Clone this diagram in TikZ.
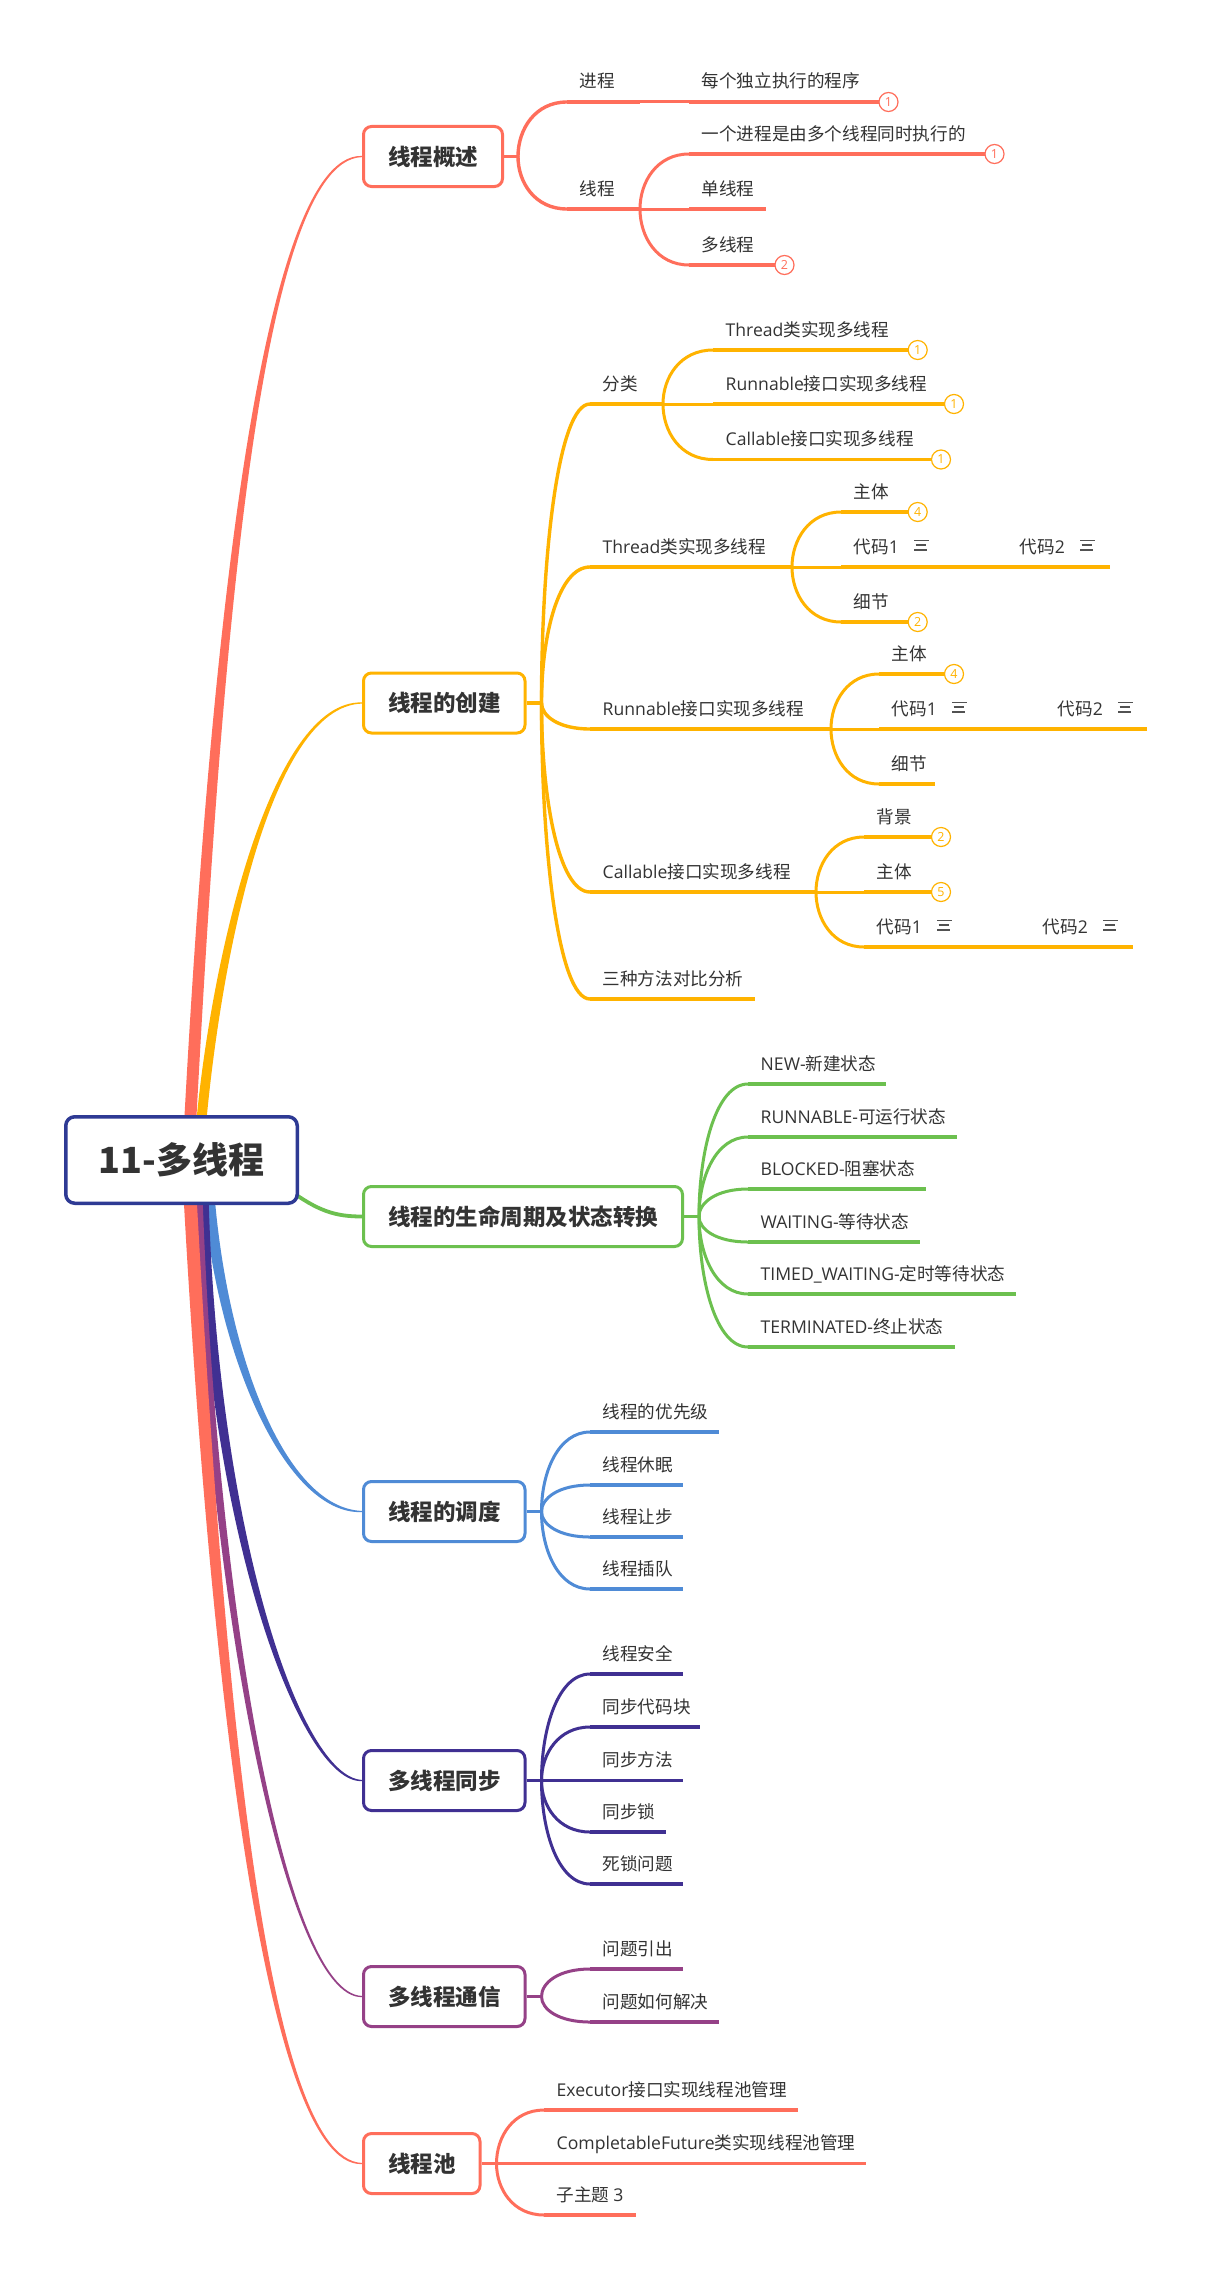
\documentclass[tikz,border=0pt]{standalone}
\usepackage{fontspec}
\setmainfont{Noto Sans CJK SC}
\newfontfamily\lat{Open Sans}
\usetikzlibrary{calc}
\pgfdeclarelayer{bg}
\pgfsetlayers{bg,main}
\definecolor{cred}{HTML}{FF6E5B}
\definecolor{corg}{HTML}{FFB300}
\definecolor{cgrn}{HTML}{6CC04F}
\definecolor{cblu}{HTML}{4F8BD6}
\definecolor{cdpu}{HTML}{403092}
\definecolor{cmag}{HTML}{954187}
\definecolor{croot}{HTML}{2E3A94}
\definecolor{ctxt}{HTML}{333333}
\tikzset{
  leaftext/.style={anchor=base west, inner sep=0pt, text=ctxt, font=\fontsize{17.6}{20}\selectfont},
  mainbox/.style={draw=#1, line width=3pt, rounded corners=8pt, fill=white, minimum height=60pt,
    inner xsep=24.5pt, inner ysep=0pt, anchor=west, text=ctxt, font=\bfseries\fontsize{22.5}{26}\selectfont},
  rootbox/.style={draw=croot, line width=3.5pt, rounded corners=9pt, fill=white, minimum width=231.5pt,
    minimum height=86.5pt, inner sep=0pt, text=ctxt, font=\bfseries\fontsize{36}{40}\selectfont},
  marker/.style={circle, draw=#1, fill=white, line width=1.2pt, minimum size=19pt, inner sep=0pt,
    text=#1, font=\lat\fontsize{12.5}{12.5}\selectfont},
  uline/.style={line width=3.2pt},
  stubline/.style={line width=3.6pt},
  curveA/.style={line width=3.4pt, line cap=round},
  curveB/.style={line width=3pt, line cap=round},
}
% leaf: name, colour, line start x, line y, line end x, text
\newcommand\leaf[6]{%
  \coordinate (#1s) at (#3,#4);
  \coordinate (#1e) at (#5,#4);
  \node[leaftext] (#1) at ({#3+12.5},{#4-14}) {#6};
  \draw[#2, uline] (#1s) -- (#1e);
}
% branch curve between named points
\newcommand\br[3]{%
  \draw[#1] let \p1=(#2), \p2=(#3) in (\p1) .. controls (\x1,{0.5*\y1+0.5*\y2}) and ({\x1+0.35*(\x2-\x1)},\y2) .. (\p2);
}
% tapered trunk: colour, start, c1, c2, end, half width, sign
\newcommand\taper[7]{%
  \fill[#1] ($(#2)+(-#6,0)$) .. controls ($(#3)+({-1.0*#6},0)$) and ($(#4)+(0,{-0.6*#6*(#7)})$) .. ($(#5)+(0,{-0.6*(#7)})$)
    -- ($(#5)+(0,{0.6*(#7)})$) .. controls ($(#4)+(0,{0.6*#6*(#7)})$) and ($(#3)+({1.0*#6},0)$) .. ($(#2)+(#6,0)$) -- cycle;
}
\newcommand\noteicon[1]{%
  \draw[ctxt!85, line width=1.4pt] ($(#1.base east)+(15,-12.3)$) -- ++(15,0)
    ($(#1.base east)+(16.5,-8)$) -- ++(10,0)
    ($(#1.base east)+(15,-3)$) -- ++(13,0);
}
\begin{document}
\begin{tikzpicture}[x=1pt,y=-1pt]
\useasboundingbox (0,0) rectangle (1210,2280);

% ---------- root ----------
\node[rootbox] (root) at (181.5,1160) {11-多线程};

% ---------- 1 线程概述 ----------
\node[mainbox=cred] (b1) at (362,156.5) {线程概述};
\coordinate (b1j) at ($(b1.east)+(14,0)$);
\draw[cred, stubline] (b1.east) -- (b1j);
\leaf{n11}{cred}{567}{102}{640}{进程}
\coordinate (n11j) at (640,102);
\leaf{n111}{cred}{689}{102}{879}{每个独立执行的程序}
\node[marker=cred] (m111) at (888.5,102) {1};
\leaf{n12}{cred}{567}{209}{640}{线程}
\coordinate (n12j) at (640,209);
\leaf{n121}{cred}{689}{154}{985}{一个进程是由多个线程同时执行的}
\node[marker=cred] (m121) at (994.5,154) {1};
\leaf{n122}{cred}{689}{209}{766}{单线程}
\leaf{n123}{cred}{689}{265}{775}{多线程}
\node[marker=cred] (m123) at (784.5,265) {2};
\br{cred,curveA}{b1j}{n11s}
\br{cred,curveA}{b1j}{n12s}
\br{cred,curveB}{n11j}{n111s}
\br{cred,curveB}{n12j}{n121s}
\br{cred,curveB}{n12j}{n122s}
\br{cred,curveB}{n12j}{n123s}

% ---------- 2 线程的创建 ----------
\node[mainbox=corg] (b2) at (362,703) {线程的创建};
\coordinate (b2j) at ($(b2.east)+(15,0)$);
\draw[corg, stubline] (b2.east) -- (b2j);
\leaf{n21}{corg}{590}{404}{663}{分类}
\coordinate (n21j) at (663,404);
\leaf{n211}{corg}{713}{350}{908}{{\lat Thread}类实现多线程}
\node[marker=corg] (m211) at (917.7,350) {1};
\leaf{n212}{corg}{713}{404}{944.5}{{\lat Runnable}接口实现多线程}
\node[marker=corg] (m212) at (954,404) {1};
\leaf{n213}{corg}{713}{459.5}{931.5}{{\lat Callable}接口实现多线程}
\node[marker=corg] (m213) at (941,459.5) {1};

\leaf{n22}{corg}{590}{567}{792}{{\lat Thread}类实现多线程}
\coordinate (n22j) at (792,567);
\leaf{n221}{corg}{841}{512}{908}{主体}
\node[marker=corg] (m221) at (917.7,512) {4};
\leaf{n222}{corg}{841}{567}{1007}{代码{\lat 1}}
\noteicon{n222}
\leaf{n2221}{corg}{1007}{567}{1110}{代码{\lat 2}}
\noteicon{n2221}
\leaf{n223}{corg}{841}{622}{908}{细节}
\node[marker=corg] (m223) at (917.7,622) {2};

\leaf{n23}{corg}{590}{729}{831}{{\lat Runnable}接口实现多线程}
\coordinate (n23j) at (831,729);
\leaf{n231}{corg}{879}{674}{944.5}{主体}
\node[marker=corg] (m231) at (954,674) {4};
\leaf{n232}{corg}{879}{729}{1045}{代码{\lat 1}}
\noteicon{n232}
\leaf{n2321}{corg}{1045}{729}{1147}{代码{\lat 2}}
\noteicon{n2321}
\leaf{n233}{corg}{879}{784}{935}{细节}

\leaf{n24}{corg}{590}{892}{816}{{\lat Callable}接口实现多线程}
\coordinate (n24j) at (816,892);
\leaf{n241}{corg}{864}{837}{931.5}{背景}
\node[marker=corg] (m241) at (941,837) {2};
\leaf{n242}{corg}{864}{892}{931.5}{主体}
\node[marker=corg] (m242) at (941,892) {5};
\leaf{n243}{corg}{864}{947}{1030}{代码{\lat 1}}
\noteicon{n243}
\leaf{n2431}{corg}{1030}{947}{1133}{代码{\lat 2}}
\noteicon{n2431}

\leaf{n25}{corg}{590}{999}{755}{三种方法对比分析}

\br{corg,curveA}{b2j}{n21s}
\br{corg,curveA}{b2j}{n22s}
\br{corg,curveA}{b2j}{n23s}
\br{corg,curveA}{b2j}{n24s}
\br{corg,curveA}{b2j}{n25s}
\br{corg,curveB}{n21j}{n211s}
\br{corg,curveB}{n21j}{n212s}
\br{corg,curveB}{n21j}{n213s}
\br{corg,curveB}{n22j}{n221s}
\br{corg,curveB}{n22j}{n222s}
\br{corg,curveB}{n22j}{n223s}
\br{corg,curveB}{n23j}{n231s}
\br{corg,curveB}{n23j}{n232s}
\br{corg,curveB}{n23j}{n233s}
\br{corg,curveB}{n24j}{n241s}
\br{corg,curveB}{n24j}{n242s}
\br{corg,curveB}{n24j}{n243s}

% ---------- 3 生命周期 ----------
\node[mainbox=cgrn] (b3) at (362,1216.5) {线程的生命周期及状态转换};
\coordinate (b3j) at ($(b3.east)+(15,0)$);
\draw[cgrn, stubline] (b3.east) -- (b3j);
\leaf{n31}{cgrn}{748}{1084}{886}{{\lat NEW-}新建状态}
\leaf{n32}{cgrn}{748}{1137}{957}{{\lat RUNNABLE-}可运行状态}
\leaf{n33}{cgrn}{748}{1189}{926}{{\lat BLOCKED-}阻塞状态}
\leaf{n34}{cgrn}{748}{1242}{920}{{\lat WAITING-}等待状态}
\leaf{n35}{cgrn}{748}{1294}{1016}{{\lat TIMED\_WAITING-}定时等待状态}
\leaf{n36}{cgrn}{748}{1347}{955}{{\lat TERMINATED-}终止状态}
\foreach \k in {1,...,6}{\br{cgrn,curveB}{b3j}{n3\k s}}

% ---------- 4 调度 ----------
\node[mainbox=cblu] (b4) at (362,1511.5) {线程的调度};
\coordinate (b4j) at ($(b4.east)+(15,0)$);
\draw[cblu, stubline] (b4.east) -- (b4j);
\leaf{n41}{cblu}{590}{1432}{719}{线程的优先级}
\leaf{n42}{cblu}{590}{1485}{683}{线程休眠}
\leaf{n43}{cblu}{590}{1537}{683}{线程让步}
\leaf{n44}{cblu}{590}{1589}{683}{线程插队}
\foreach \k in {1,...,4}{\br{cblu,curveB}{b4j}{n4\k s}}

% ---------- 5 同步 ----------
\node[mainbox=cdpu] (b5) at (362,1780.5) {多线程同步};
\coordinate (b5j) at ($(b5.east)+(15,0)$);
\draw[cdpu, stubline] (b5.east) -- (b5j);
\leaf{n51}{cdpu}{590}{1674}{683}{线程安全}
\leaf{n52}{cdpu}{590}{1727}{700}{同步代码块}
\leaf{n53}{cdpu}{590}{1780.5}{683}{同步方法}
\leaf{n54}{cdpu}{590}{1832}{666}{同步锁}
\leaf{n55}{cdpu}{590}{1884}{683}{死锁问题}
\foreach \k in {1,...,5}{\br{cdpu,curveB}{b5j}{n5\k s}}

% ---------- 6 通信 ----------
\node[mainbox=cmag] (b6) at (362,1996.5) {多线程通信};
\coordinate (b6j) at ($(b6.east)+(15,0)$);
\draw[cmag, stubline] (b6.east) -- (b6j);
\leaf{n61}{cmag}{590}{1969}{683}{问题引出}
\leaf{n62}{cmag}{590}{2022}{719}{问题如何解决}
\foreach \k in {1,2}{\br{cmag,curveB}{b6j}{n6\k s}}

% ---------- 7 线程池 ----------
\node[mainbox=cred] (b7) at (362,2163.5) {线程池};
\coordinate (b7j) at ($(b7.east)+(15,0)$);
\draw[cred, stubline] (b7.east) -- (b7j);
\leaf{n71}{cred}{544}{2110}{798}{{\lat Executor}接口实现线程池管理}
\leaf{n72}{cred}{544}{2163.5}{866}{{\lat CompletableFuture}类实现线程池管理}
\leaf{n73}{cred}{544}{2215}{636}{子主题 {\lat 3}}
\foreach \k in {1,2,3}{\br{cred,curveB}{b7j}{n7\k s}}

% ---------- trunks from root (background) ----------
\begin{pgfonlayer}{bg}
\fill[white] (0,0) rectangle (1210,2280);
\coordinate (t1s) at (190,1125);
\coordinate (t2s) at (201,1125);
\coordinate (t4s) at (209,1195);
\coordinate (t5s) at (203,1195);
\coordinate (t6s) at (198,1195);
\coordinate (t7s) at (190,1195);
\coordinate (t3s) at (288,1189);
\taper{cred}{t1s}{213,700}{255,156.5}{b1.west}{6}{1}
\taper{corg}{t2s}{216,960}{270,703}{b2.west}{5}{1}
\taper{cblu}{t4s}{222,1355}{285,1511.5}{b4.west}{5.5}{-1}
\taper{cdpu}{t5s}{212,1530}{300,1780.5}{b5.west}{5.5}{-1}
\taper{cmag}{t6s}{212,1600}{285,1996.5}{b6.west}{4.5}{-1}
\taper{cred}{t7s}{215,1650}{262,2163.5}{b7.west}{6.5}{-1}
\draw[cgrn, line width=3.8pt] (t3s) .. controls (318,1211) and (335,1216.5) .. (b3.west);
\end{pgfonlayer}
\end{tikzpicture}
\end{document}
